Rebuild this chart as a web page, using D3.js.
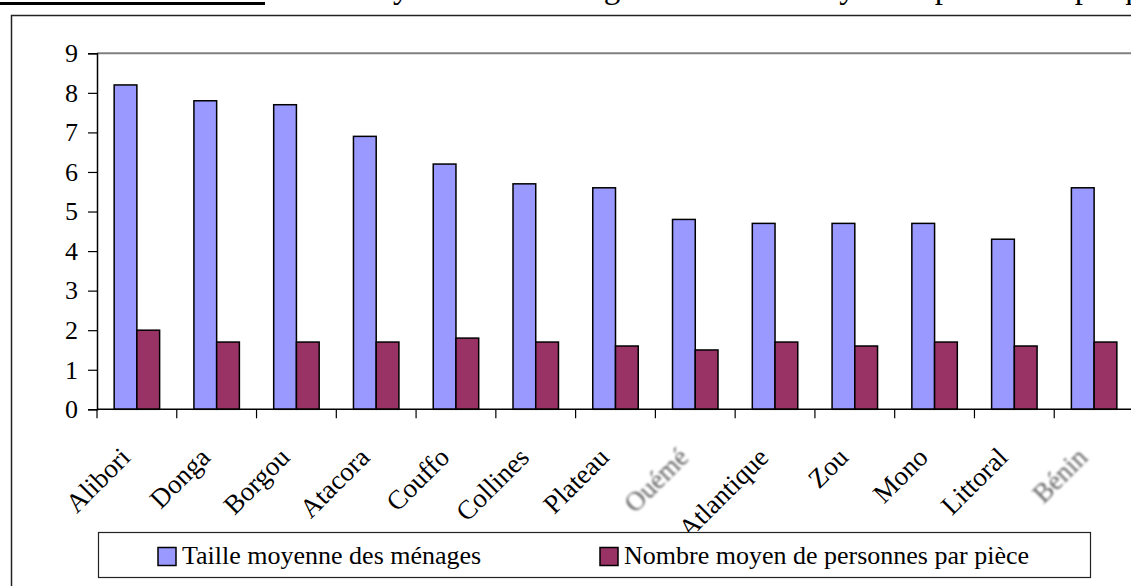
<!DOCTYPE html>
<html>
<head>
<meta charset="utf-8">
<script src="https://cdn.jsdelivr.net/npm/d3@7"></script>
<style>
  html, body { margin: 0; padding: 0; background: #fff; overflow: hidden; }
  text { font-family: "Liberation Serif", "Times New Roman", serif; fill: #000; }
</style>
</head>
<body>
<script>
'use strict';

// chart values
const departements = ["Alibori", "Donga", "Borgou", "Atacora", "Couffo", "Collines", "Plateau",
  "Ouémé", "Atlantique", "Zou", "Mono", "Littoral", "Bénin"];
const tailleMenages = [8.2, 7.8, 7.7, 6.9, 6.2, 5.7, 5.6, 4.8, 4.7, 4.7, 4.7, 4.3, 5.6];
const personnesPiece = [2.0, 1.7, 1.7, 1.7, 1.8, 1.7, 1.6, 1.5, 1.7, 1.6, 1.7, 1.6, 1.7];
const yTicks = [0, 1, 2, 3, 4, 5, 6, 7, 8, 9];
const seriesNames = ["Taille moyenne des ménages", "Nombre moyen de personnes par pièce"];
const blurredLabels = ["Ouémé", "Bénin"];
const captionText = "Taille moyenne des ménages et nombre moyen de personnes par pièce";

(function() {
  const width = 1131, height = 586;
  const colors = ["#9999ff", "#993366"];

  const svg = d3.select('body').append('svg')
    .attr('width', width)
    .attr('height', height);

  // blur for the two washed-out labels
  svg.append('defs').append('filter')
    .attr('id', 'flou')
    .append('feGaussianBlur')
    .attr('stdDeviation', 1.1);

  // caption line, cut off by the top of the page like in the scan
  svg.append('rect')
    .attr('x', 0).attr('y', 2)
    .attr('width', 265).attr('height', 3)
    .attr('fill', '#000');
  svg.append('text')
    .attr('x', 268)
    .attr('y', -2)
    .style('font-size', '33px')
    .text(captionText);

  // outer chart frame (continues past the right and bottom edges)
  svg.append('rect')
    .attr('x', 11.5).attr('y', 15.5)
    .attr('width', 1200).attr('height', 700)
    .attr('fill', 'none')
    .attr('stroke', '#222')
    .attr('stroke-width', 1.5);

  const plot = { left: 97, right: 1134, top: 53.3, bottom: 409.3 };

  let x = d3.scaleBand()
    .domain(departements)
    .range([plot.left, plot.right]);

  let y = d3.scaleLinear()
    .domain([0, 9])
    .range([plot.bottom, plot.top]);

  // top border of the plot area
  svg.append('line')
    .attr('x1', plot.left).attr('x2', plot.right)
    .attr('y1', y(9)).attr('y2', y(9))
    .attr('stroke', '#808080')
    .attr('stroke-width', 2);

  // bars
  const barW = x.bandwidth() * 0.285;
  [tailleMenages, personnesPiece].forEach((values, s) => {
    svg.append('g').selectAll('rect')
      .data(departements)
      .enter()
      .append('rect')
        .attr('x', (d) => x(d) + x.bandwidth() / 2 - barW + s * barW)
        .attr('y', (d, i) => y(values[i]))
        .attr('width', barW)
        .attr('height', (d, i) => y(0) - y(values[i]))
        .attr('fill', colors[s])
        .attr('stroke', '#000')
        .attr('stroke-width', 1.5);
  });

  // y axis
  let yAxis = d3.axisLeft(y).tickValues(yTicks).tickSize(9).tickPadding(10);
  let gy = svg.append('g')
    .attr('transform', `translate(${plot.left}, 0)`)
    .call(yAxis);
  gy.attr('font-family', null).attr('font-size', null);
  gy.select('.domain').attr('stroke', '#000').attr('stroke-width', 1.5);
  gy.selectAll('.tick line').attr('stroke', '#000').attr('stroke-width', 1.2);
  gy.selectAll('.tick text')
    .style('font-size', '26px')
    .attr('fill', '#000');

  // x axis with ticks on the category boundaries
  svg.append('line')
    .attr('x1', plot.left).attr('x2', plot.right)
    .attr('y1', plot.bottom).attr('y2', plot.bottom)
    .attr('stroke', '#000').attr('stroke-width', 1.5);
  svg.append('g').selectAll('line')
    .data(departements)
    .enter()
    .append('line')
      .attr('x1', (d) => x(d)).attr('x2', (d) => x(d))
      .attr('y1', plot.bottom).attr('y2', plot.bottom + 9)
      .attr('stroke', '#000').attr('stroke-width', 1.2);

  // rotated category labels
  svg.append('g').selectAll('text')
    .data(departements)
    .enter()
    .append('text')
      .attr('transform', (d) => `translate(${x(d) + x.bandwidth() / 2 - 5}, 459) rotate(-45)`)
      .attr('text-anchor', 'end')
      .style('font-size', '27px')
      .style('fill', (d) => blurredLabels.includes(d) ? '#666' : '#000')
      .attr('filter', (d) => blurredLabels.includes(d) ? 'url(#flou)' : null)
      .text((d) => d);

  // legend
  const legend = svg.append('g');
  legend.append('rect')
    .attr('x', 98.5).attr('y', 532.5)
    .attr('width', 992).attr('height', 45)
    .attr('fill', '#fff')
    .attr('stroke', '#222')
    .attr('stroke-width', 1.2);
  const legendX = [158, 600];
  seriesNames.forEach((name, s) => {
    legend.append('rect')
      .attr('x', legendX[s]).attr('y', 547.5)
      .attr('width', 18).attr('height', 18)
      .attr('fill', colors[s])
      .attr('stroke', '#000')
      .attr('stroke-width', 1.5);
    legend.append('text')
      .attr('x', legendX[s] + 24)
      .attr('y', 564)
      .style('font-size', '26px')
      .text(name);
  });
})();
</script>
</body>
</html>
